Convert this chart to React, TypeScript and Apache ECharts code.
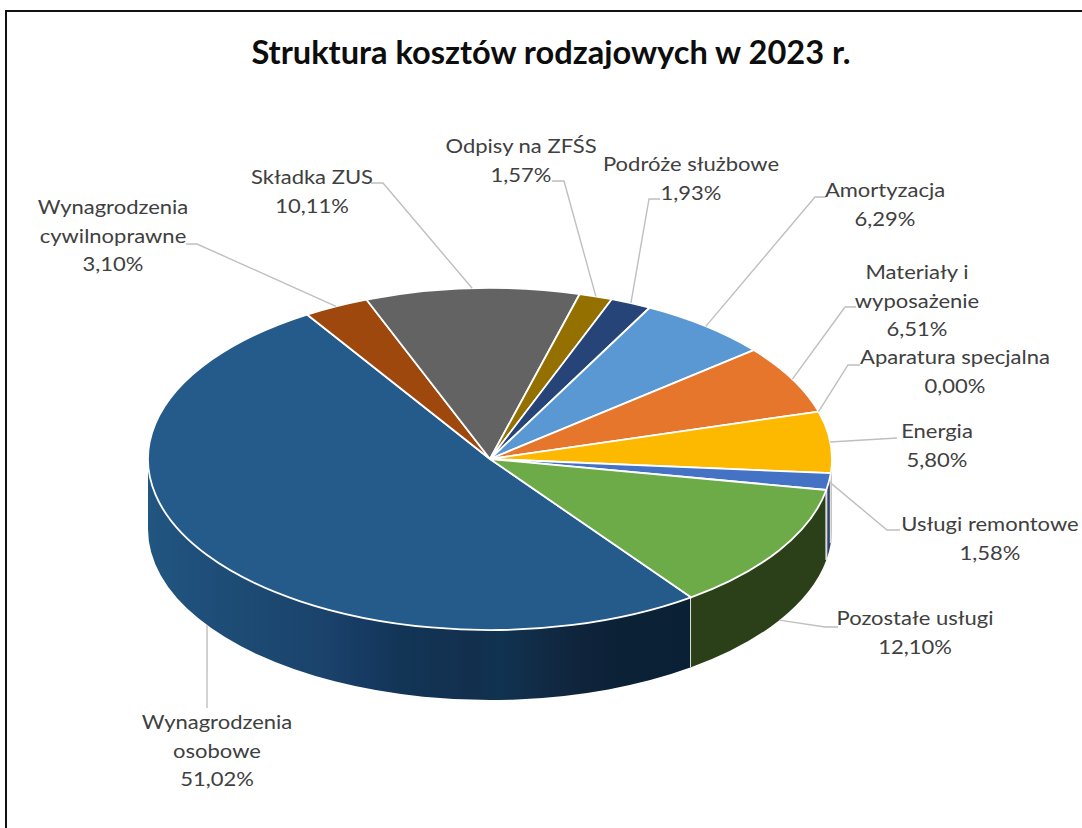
import React, { useEffect, useRef } from "react";
import * as echarts from "echarts";

const categories = [
  "Wynagrodzenia\nosobowe",
  "Wynagrodzenia\ncywilnoprawne",
  "Składka ZUS",
  "Odpisy na ZFŚS",
  "Podróże służbowe",
  "Amortyzacja",
  "Materiały i\nwyposażenie",
  "Aparatura specjalna",
  "Energia",
  "Usługi remontowe",
  "Pozostałe usługi",
];
const shares = [51.02, 3.1, 10.11, 1.57, 1.93, 6.29, 6.51, 0.0, 5.8, 1.58, 12.1];
const topColors = [
  "#245b8b", "#9e480e", "#636363", "#937000", "#264478", "#5a98d3",
  "#e5762b", "#a5a5a5", "#fdb900", "#4472c4", "#6cab47",
];
const wallColors = [
  "#1c4a72", "#5f2b08", "#3b3b3b", "#5c4500", "#2f4370", "#375d80",
  "#8a4618", "#636363", "#7f6000", "#2f4370", "#2b3f18",
];
// Shaded bands across the front wall of the largest slice: [screen x, colour].
const largeWallBands: [number, string][] = [
  [148, "#215680"], [190, "#1f507c"], [250, "#1c4a72"], [320, "#1b436c"],
  [365, "#163a62"], [400, "#123556"], [470, "#132f4e"], [500, "#0f3350"],
  [540, "#112b46"], [580, "#0f243b"], [620, "#0b2136"], [690, "#0a2035"],
];
// Where each label sits: [centre x, first line y, elbow x, elbow y, end x, end y].
const labelLayout: number[][] = [
  [217, 721, 207, 708, 207, 708],
  [113, 206, 197, 244, 186, 244],
  [312, 176, 383, 183, 371, 183],
  [521, 145, 564, 181, 552, 181],
  [691, 163, 649, 199, 660, 199],
  [885, 189, 815, 197, 826, 197],
  [917, 271, 845, 307, 856, 307],
  [955, 356, 848, 365, 860, 365],
  [937, 430, 897, 438, 897, 438],
  [990, 523, 887, 530, 900, 530],
  [915, 617, 825, 627, 838, 627],
];

const CX = 490;
const CY = 459;
const RX = 342;
const RY = 171;
const DEPTH = 70;
const FIRST_ANGLE = 54;
const LINE_HEIGHT = 28.7;
const FONT = "Lato, Carlito, sans-serif";

const total = shares.reduce((a, b) => a + b, 0);
const startAngles: number[] = [];
shares.reduce((acc, v, i) => {
  startAngles[i] = acc;
  return acc + (v / total) * 360;
}, FIRST_ANGLE);
const endAngle = (i: number) => startAngles[i] + (shares[i] / total) * 360;

const rad = (d: number) => (d * Math.PI) / 180;
const px = (d: number) => CX + RX * Math.cos(rad(d));
const py = (d: number, drop = 0) => CY + RY * Math.sin(rad(d)) + drop;

// Front-facing span of a slice, in degrees; null when it has no visible wall.
function frontSpan(i: number): [number, number] | null {
  const spans = [0, 360].map((turn) => {
    const a = Math.max(startAngles[i], turn);
    const b = Math.min(endAngle(i), turn + 180);
    return b > a ? [a, b] : null;
  });
  const hit = spans.find(Boolean);
  return hit ? (hit as [number, number]) : null;
}

function renderWall(params: any) {
  const i = params.dataIndex;
  const span = frontSpan(i);
  if (!span) return null;
  const [a, b] = span;
  const d = [
    `M ${px(a)} ${py(a)}`,
    `A ${RX} ${RY} 0 0 1 ${px(b)} ${py(b)}`,
    `L ${px(b)} ${py(b, DEPTH)}`,
    `A ${RX} ${RY} 0 0 0 ${px(a)} ${py(a, DEPTH)}`,
    "Z",
  ].join(" ");
  let fill: any = wallColors[i];
  if (i === 0) {
    const x0 = largeWallBands[0][0];
    const x1 = largeWallBands[largeWallBands.length - 1][0];
    fill = new echarts.graphic.LinearGradient(
      0, 0, 1, 0,
      largeWallBands.map(([x, color]) => ({ offset: (x - x0) / (x1 - x0), color })),
    );
  }
  const children: any[] = [{ type: "path", shape: { pathData: d }, style: { fill } }];
  if (a === startAngles[i] && a > 20) {
    children.push({
      type: "line",
      shape: { x1: px(a), y1: py(a), x2: px(a), y2: py(a, DEPTH) },
      style: { stroke: "#dcdcdc", lineWidth: 2 },
    });
  }
  return { type: "group", children };
}

function renderTop(params: any) {
  const i = params.dataIndex;
  if (shares[i] === 0) return null;
  const a = startAngles[i];
  const b = endAngle(i);
  const large = b - a > 180 ? 1 : 0;
  return {
    type: "path",
    shape: {
      pathData: `M ${CX} ${CY} L ${px(a)} ${py(a)} A ${RX} ${RY} 0 ${large} 1 ${px(b)} ${py(b)} Z`,
    },
    style: { fill: topColors[i], stroke: "#ffffff", lineWidth: 1.8, lineJoin: "round" },
  };
}

function renderLabel(params: any) {
  const i = params.dataIndex;
  const [cx, y, ex, ey, tx, ty] = labelLayout[i];
  const mid = (startAngles[i] + endAngle(i)) / 2;
  const front = Math.sin(rad(mid)) > 0 && Math.cos(rad(mid)) < 0.95;
  const text = `${categories[i]}\n${shares[i].toFixed(2).replace(".", ",")}%`;
  return {
    type: "group",
    children: [
      {
        type: "polyline",
        shape: {
          points: [
            [px(mid), py(mid, front ? DEPTH : 0)],
            [ex, ey],
            [tx, ty],
          ],
        },
        style: { stroke: "#bfbfbf", lineWidth: 1.4, fill: "none" },
      },
      {
        type: "text",
        x: cx,
        y: y - LINE_HEIGHT / 2,
        scaleX: 1.1,
        style: {
          text,
          x: 0,
          y: 0,
          align: "center",
          verticalAlign: "top",
          lineHeight: LINE_HEIGHT,
          fontFamily: FONT,
          fontSize: 20,
          fill: "#404040",
        },
      },
    ],
  };
}

export default function App() {
  const ref = useRef<HTMLDivElement>(null);

  useEffect(() => {
    const chart = echarts.init(ref.current!, null, { renderer: "svg" });
    const seriesData = shares.map((v) => [v]);
    chart.setOption({
      animation: false,
      backgroundColor: "#ffffff",
      title: {
        text: "Struktura kosztów rodzajowych w 2023 r.",
        left: 546,
        top: 30,
        textAlign: "center",
        textStyle: { fontFamily: FONT, fontSize: 32.6, fontWeight: "bold", color: "#0d0d0d" },
      },
      graphic: [
        {
          type: "polyline",
          silent: true,
          shape: { points: [[6, 828], [6, 11], [1082, 11]] },
          style: { stroke: "#111111", lineWidth: 2, fill: "none" },
        },
      ],
      series: [
        { type: "custom", coordinateSystem: "none", silent: true, data: seriesData, renderItem: renderWall },
        { type: "custom", coordinateSystem: "none", silent: true, data: seriesData, renderItem: renderTop },
        { type: "custom", coordinateSystem: "none", silent: true, data: seriesData, renderItem: renderLabel },
      ],
    });
    return () => chart.dispose();
  }, []);

  return (
    <div
      ref={ref}
      style={{ position: "absolute", left: 0, top: 0, width: 1082, height: 828, background: "#fff" }}
    />
  );
}
